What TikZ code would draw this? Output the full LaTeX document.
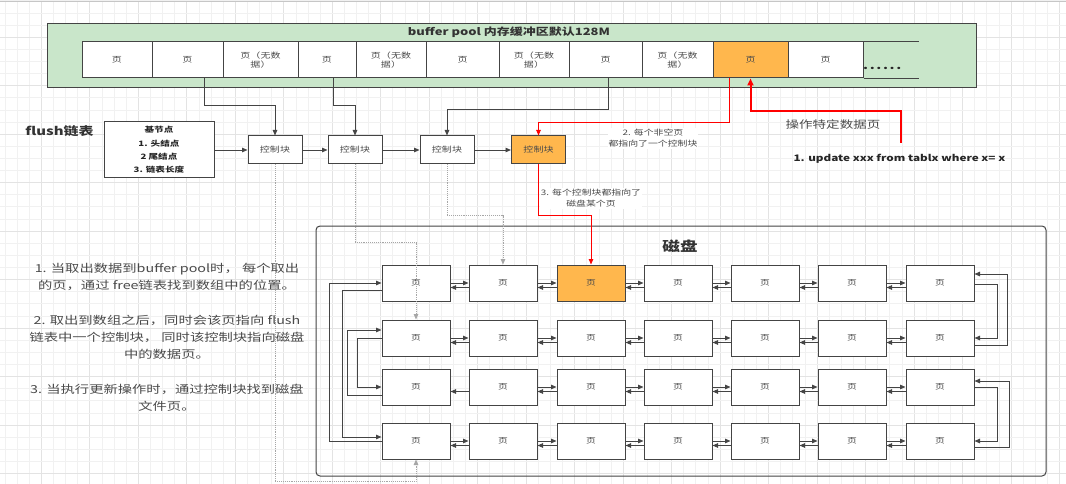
\documentclass[tikz,border=0pt]{standalone}
\usepackage{fontspec}
\setmainfont{Noto Sans CJK SC}[FakeStretch=1.3]
\usetikzlibrary{arrows.meta}
\definecolor{gridminor}{HTML}{F1F1F1}
\definecolor{gridmajor}{HTML}{E3E3E3}
\definecolor{poolgreen}{HTML}{C9E6CA}
\definecolor{hot}{HTML}{FFB74D}
\definecolor{edgec}{HTML}{444444}
\definecolor{txt}{HTML}{4A4A4A}
\begin{document}
\begin{tikzpicture}[x=1pt,y=-1pt,
  cell/.style={draw=edgec, line width=1pt, fill=white, minimum height=36pt, inner sep=0pt, align=center, text=txt, font=\fontsize{7.7}{8.8}\selectfont},
  ctl/.style={draw=edgec, line width=1pt, fill=white, minimum width=54pt, minimum height=28pt, inner sep=0pt, text=txt, font=\fontsize{7.7}{9}\selectfont},
  dpage/.style={draw=edgec, line width=1pt, minimum width=68pt, minimum height=36pt, inner sep=0pt, text=txt, font=\fontsize{7.5}{9}\selectfont},
  arr/.style={draw=edgec, line width=0.9pt, -{Triangle[length=5.5pt,width=4.5pt]}},
  redarr/.style={draw=red, line width=0.9pt, -{Triangle[length=5.5pt,width=4.5pt]}},
  redthick/.style={draw=red, line width=2pt, -{Triangle[length=7pt,width=6pt]}},
  dotarr/.style={draw=gray!70, densely dotted, line width=0.9pt, -{Triangle[length=5.5pt,width=4.5pt]}},
  lbl/.style={fill=white, text=txt, align=center, inner sep=1pt, font=\fontsize{7.6}{11}\selectfont}
]
\useasboundingbox (0,0) rectangle (1066,484);
% background grid
\fill[white] (0,0) rectangle (1066,484);
\foreach \i in {0,...,88} {
  \pgfmathtruncatemacro{\m}{mod(\i,4)}
  \ifnum\m=3 \draw[gridmajor, line width=0.7pt] ({5+12.12*\i},0) -- ({5+12.12*\i},484);
  \else \draw[gridminor, line width=0.7pt] ({5+12.12*\i},0) -- ({5+12.12*\i},484); \fi
}
\foreach \i in {0,...,40} {
  \pgfmathtruncatemacro{\m}{mod(\i,4)}
  \ifnum\m=3 \draw[gridmajor, line width=0.7pt] (0,{0.8+12.12*\i}) -- (1066,{0.8+12.12*\i});
  \else \draw[gridminor, line width=0.7pt] (0,{0.8+12.12*\i}) -- (1066,{0.8+12.12*\i}); \fi
}
\draw[gray!45, line width=1.5pt] (0,1.5) -- (1066,1.5);

% buffer pool
\draw[edgec, line width=1pt, fill=poolgreen] (47,24) rectangle (976,88);
\node[font=\bfseries\fontsize{10}{12}\selectfont, text=black!80] (title) at (509,32) {buffer pool 内存缓冲区默认128M};
\node[cell, minimum width=70pt] (b1) at (117,60) {页};
\node[cell, minimum width=71pt] (b2) at (187.5,60) {页};
\node[cell, minimum width=75pt] (b3) at (260.5,60) {页（无数\\据）};
\node[cell, minimum width=58pt] (b4) at (327,60) {页};
\node[cell, minimum width=70pt] (b5) at (391,60) {页（无数\\据）};
\node[cell, minimum width=73pt] (b6) at (462.5,60) {页};
\node[cell, minimum width=70pt] (b7) at (534,60) {页（无数\\据）};
\node[cell, minimum width=73pt] (b8) at (605.5,60) {页};
\node[cell, minimum width=71pt] (b9) at (677.5,60) {页（无数\\据）};
\node[cell, minimum width=75pt, fill=hot] (b10) at (750.5,60) {页};
\node[cell, minimum width=75pt] (b11) at (825.5,60) {页};
\draw[edgec, line width=1pt] (b11.north east) -- ++(55,0);
\draw[edgec, line width=1pt] (b11.south east) -- ++(55,0);
\node[anchor=base west, inner sep=0pt, font=\bfseries\fontsize{11}{12}\selectfont, text=black!85] (more) at (863,70) {.\kern1.6pt.\kern1.6pt.\kern1.6pt.\kern1.6pt.\kern1.6pt.};

% flush list
\node[font=\bfseries\fontsize{11.5}{13}\selectfont, text=black!80] (flab) at (59.5,131) {flush链表};
\node[draw=edgec, line width=1pt, fill=white, minimum width=110pt, minimum height=56pt, inner sep=0pt, align=center, text=black!85, font=\bfseries\fontsize{7.4}{13.2}\selectfont] (head) at (159,150) {基节点\\1. 头结点\\2 尾结点\\3. 链表长度};
\node[ctl] (cb1) at (275,150) {控制块};
\node[ctl] (cb2) at (355,150) {控制块};
\node[ctl] (cb3) at (447,150) {控制块};
\node[ctl, fill=hot] (cb4) at (538.5,150) {控制块};
\draw[arr] (head) -- (cb1);
\draw[arr] (cb1) -- (cb2);
\draw[arr] (cb2) -- (cb3);
\draw[arr] (cb3) -- (cb4);

% pages to control blocks
\draw[arr] ([xshift=16.5pt]b2.south) -- ++(0,27) -| (cb1.north);
\draw[arr] ([xshift=6pt]b4.south) -- ++(0,27) -| (cb2.north);
\draw[arr] ([xshift=2.5pt]b8.south) -- ++(0,31) -| (cb3.north);
\draw[redarr] ([xshift=-21.5pt]b10.south) -- ++(0,44) -| (cb4.north);
\node[lbl] (l2) at (653,138.5) {2. 每个非空页\\都指向了一个控制块};

% update operation
\coordinate (upd) at (900.7,143);
\draw[redthick] (upd) -- ++(0,-32.3) -| (b10.south);
\node[text=txt, font=\fontsize{10.4}{12}\selectfont] (op) at (833,125) {操作特定数据页};
\node[anchor=west, text=black!85, font=\bfseries\fontsize{9}{11}\selectfont] (sql) at (790,159) {1. update xxx from tablx where x= x};

% explanation text
\node[align=center, text=txt, font=\fontsize{11}{17.3}\selectfont] (expl) at (167,337.5) {1. 当取出数据到buffer pool时， 每个取出\\的页，通过 free链表找到数组中的位置。\\[17.3pt]2. 取出到数组之后，同时会该页指向 flush\\链表中一个控制块， 同时该控制块指向磁盘\\中的数据页。\\[17.3pt]3. 当执行更新操作时，通过控制块找到磁盘\\文件页。};

% disk
\draw[edgec, line width=1pt, rounded corners=4pt] (316,226) rectangle (1046,476);
\node[font=\bfseries\fontsize{13.5}{15}\selectfont, text=black!80] (disk) at (680,246) {磁盘};
\foreach \r/\y in {1/283,2/338,3/387,4/441} {
  \foreach \c/\x in {1/416,2/503,3/591,4/678,5/765,6/852,7/940} {
    \ifnum\r\c=13 \def\fc{hot}\else\def\fc{white}\fi
    \node[dpage, fill=\fc] (d\r\c) at (\x,\y) {页};
  }
}
\foreach \r in {1,...,4} {
  \foreach \c in {1,...,6} {
    \pgfmathtruncatemacro{\n}{\c+1}
    \ifnum\r\c=31 \else \draw[arr] (d\r\c.east) -- (d\r\n.west); \fi
    \draw[arr] ([yshift=-4.5pt]d\r\n.west) -- ([yshift=-4.5pt]d\r\c.east);
  }
}
% right loops
\draw[arr] ([yshift=-1pt]d17.east) -- ++(23,0) |- (d27.east);
\draw[arr] ([yshift=-7pt]d27.east) -- ++(33,0) |- ([yshift=9pt]d17.east);
\draw[arr] (d37.east) -- ++(23,0) |- (d47.east);
\draw[arr] ([yshift=-6pt]d47.east) -- ++(35,0) |- ([yshift=6pt]d37.east);
% left loops
\draw[arr] (d41.west) -- ++(-52,0) |- (d11.west);
\draw[arr] ([yshift=-7pt]d11.west) -- ++(-39,0) |- ([yshift=4pt]d41.west);
\draw[arr] ([yshift=-8pt]d31.west) -- ++(-34,0) |- ([yshift=8pt]d21.west);
\draw[arr] (d21.west) -- ++(-24,0) |- (d31.west);

% control blocks to disk pages
\draw[dotarr] (cb1.south) -- ++(0,317) -| (d41.south);
\draw[dotarr] (cb2.south) -- ++(0,78) -| (d21.north);
\draw[dotarr] (cb3.south) -- ++(0,51) -| (d12.north);
\draw[redarr] (cb4.south) -- ++(0,51) -| (d13.north);
\node[lbl] (l3) at (591,198.5) {3. 每个控制块都指向了\\磁盘某个页};
\end{tikzpicture}
\end{document}
